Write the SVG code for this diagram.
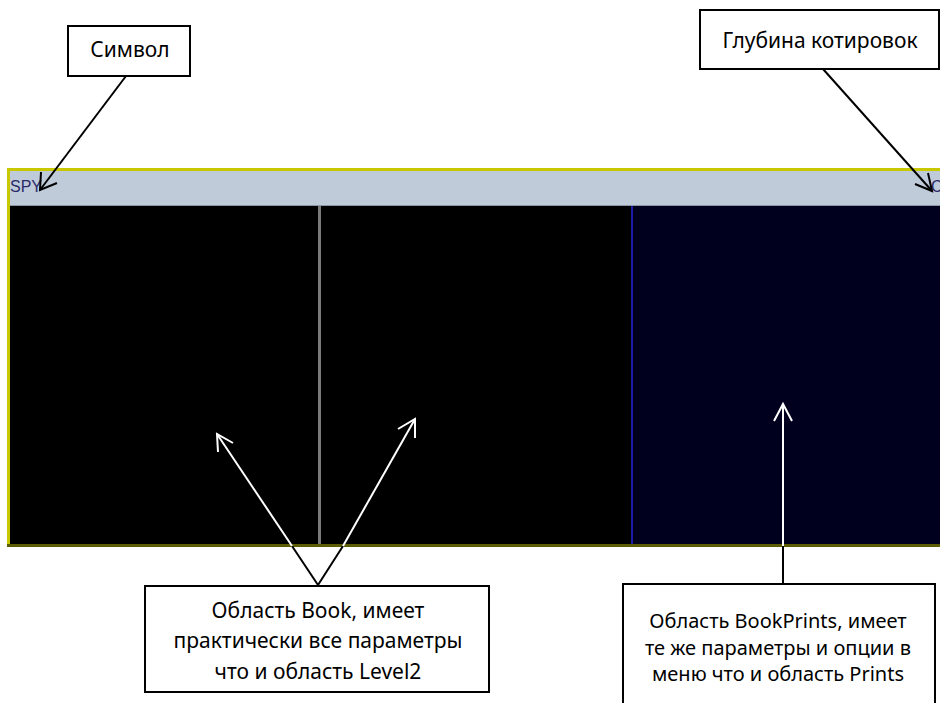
<svg xmlns="http://www.w3.org/2000/svg" width="940" height="703" viewBox="0 0 940 703">
<style>
.box{fill:#fff;stroke:#000;stroke-width:2}
.t{font-family:"Noto Sans","Open Sans",sans-serif;font-size:21px;fill:#000;text-anchor:middle}
.t2{font-size:20px}
.bl{stroke:#000;stroke-width:2;fill:none}
.wl{stroke:#fff;stroke-width:2;fill:none}
.app{font-family:"Liberation Sans",Arial,sans-serif;font-size:16px;fill:#2a2a6a}
</style>
<rect width="940" height="703" fill="#fff"/>
<g id="panel">
<rect x="7" y="168" width="933" height="3" fill="#c8c800"/>
<rect x="7" y="168" width="3" height="378" fill="#c8c800"/>
<rect x="10" y="171" width="930" height="34" fill="#bfcbd9"/>
<rect x="10" y="205" width="930" height="1" fill="#8a96a4"/>
<rect x="10" y="206" width="622" height="338" fill="#000"/>
<rect x="632" y="206" width="308" height="338" fill="#00001e"/>
<rect x="318" y="206" width="3" height="338" fill="#7a7a7a"/>
<rect x="631" y="206" width="2" height="338" fill="#1c1ca8"/>
<rect x="7" y="544" width="933" height="3" fill="#5c5c00"/>
<text class="app" x="10" y="192">SPY</text>
<text class="app" x="931" y="192">C</text>
</g>
<g id="symbol">
<rect class="box" x="68" y="26" width="122" height="50"/>
<text class="t" x="130" y="57">Символ</text>
</g>
<g id="depth">
<rect class="box" x="700" y="10" width="239" height="59"/>
<text class="t" x="820" y="48">Глубина котировок</text>
</g>
<g id="book">
<rect class="box" x="145" y="586" width="344" height="106"/>
<text class="t" x="318" y="618">Область Book, имеет</text>
<text class="t" x="318" y="648">практически все параметры</text>
<text class="t" x="318" y="679">что и область Level2</text>
</g>
<g id="bookprints">
<rect class="box" x="623" y="584" width="312" height="130"/>
<text class="t t2" x="778" y="628">Область BookPrints, имеет</text>
<text class="t t2" x="778" y="655">те же параметры и опции в</text>
<text class="t t2" x="778" y="681">меню что и область Prints</text>
</g>
<g id="connectors">
<line class="bl" x1="126" y1="76" x2="40" y2="190"/>
<polyline class="bl" points="41,172 40,190 57,183"/>
<line class="bl" x1="823" y1="69" x2="932" y2="191"/>
<polyline class="bl" points="915,184 932,191 928,173"/>
<line class="bl" x1="318" y1="585" x2="292" y2="546"/>
<line class="wl" x1="292" y1="546" x2="217" y2="434"/>
<polyline class="wl" points="218,452 217,434 233,443"/>
<line class="bl" x1="318" y1="585" x2="343" y2="546"/>
<line class="wl" x1="343" y1="546" x2="415" y2="419"/>
<polyline class="wl" points="398,429 415,419 415,438"/>
<line class="bl" x1="783" y1="584" x2="783" y2="546"/>
<line class="wl" x1="783" y1="546" x2="783" y2="404"/>
<polyline class="wl" points="774,421 783,404 792,421"/>
</g>
</svg>
